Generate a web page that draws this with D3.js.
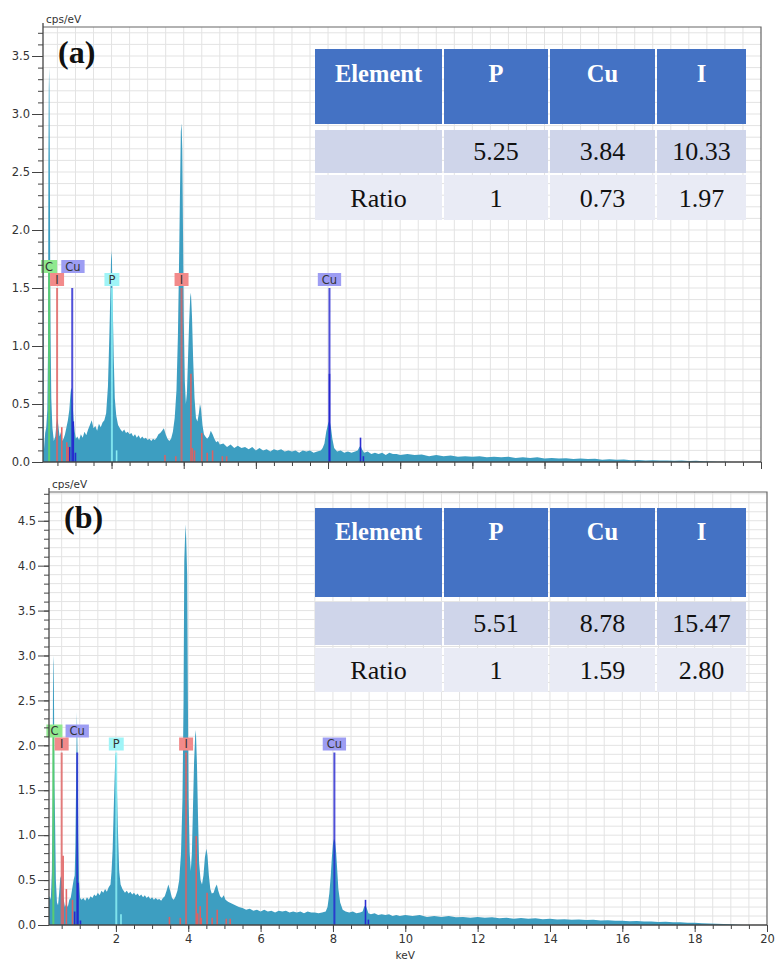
<!DOCTYPE html>
<html>
<head>
<meta charset="utf-8">
<script src="https://cdn.jsdelivr.net/npm/d3@7"></script>
<style>
  body { margin: 0; background: #fff; }
  svg { display: block; font-family: "DejaVu Sans", Verdana, sans-serif; }
</style>
</head>
<body>
<div id="chart"></div>
<script>
// EDS spectrum (a): [keV, cps/eV]
const spectrumA = [
  [0.10,2.2],[0.115,2.2],[0.125,0.1],[0.16,0.25],[0.19,0.3],[0.22,0.45],[0.24,1.0],[0.25,2.6],[0.26,3.2],[0.27,3.4],
  [0.28,3.2],[0.29,2.6],[0.30,1.6],[0.31,1.1],[0.33,0.55],[0.36,0.3],[0.40,0.18],[0.44,0.22],[0.47,0.32],[0.50,0.38],
  [0.53,0.3],[0.56,0.22],[0.60,0.26],[0.63,0.18],[0.67,0.2],[0.71,0.24],[0.75,0.3],[0.79,0.36],[0.83,0.45],[0.86,0.58],
  [0.88,0.64],[0.90,0.62],[0.92,0.5],[0.95,0.36],[0.98,0.26],[1.01,0.2],[1.05,0.22],[1.1,0.19],[1.15,0.24],[1.2,0.21],
  [1.25,0.26],[1.3,0.23],[1.35,0.28],[1.4,0.32],[1.45,0.36],[1.5,0.29],[1.55,0.31],[1.6,0.27],[1.65,0.33],[1.7,0.3],
  [1.75,0.34],[1.8,0.36],[1.85,0.42],[1.9,0.65],[1.94,1.1],[1.97,1.5],[1.99,1.82],[2.01,1.75],[2.03,1.4],[2.06,0.9],
  [2.09,0.55],[2.13,0.4],[2.18,0.32],[2.25,0.28],[2.3,0.26],[2.35,0.28],[2.4,0.25],[2.45,0.26],[2.5,0.24],[2.55,0.25],
  [2.6,0.22],[2.65,0.24],[2.7,0.21],[2.75,0.23],[2.8,0.2],[2.85,0.22],[2.9,0.2],[2.95,0.21],[3.0,0.19],[3.05,0.2],
  [3.1,0.18],[3.15,0.2],[3.2,0.19],[3.25,0.21],[3.3,0.24],[3.35,0.25],[3.4,0.27],[3.45,0.29],[3.5,0.24],[3.55,0.2],
  [3.6,0.18],[3.65,0.2],[3.7,0.26],[3.75,0.38],[3.8,0.62],[3.84,1.1],[3.87,1.7],[3.9,2.4],[3.92,2.85],[3.94,2.92],
  [3.96,2.7],[3.98,2.0],[4.0,1.25],[4.03,0.7],[4.06,0.5],[4.09,0.6],[4.12,0.9],[4.15,1.2],[4.18,1.42],[4.2,1.46],
  [4.23,1.25],[4.26,0.9],[4.3,0.55],[4.34,0.38],[4.38,0.35],[4.42,0.42],[4.45,0.5],[4.48,0.46],[4.52,0.32],[4.56,0.24],
  [4.6,0.22],[4.65,0.2],[4.7,0.22],[4.75,0.27],[4.8,0.24],[4.85,0.2],[4.9,0.17],[4.95,0.18],[5.0,0.15],[5.1,0.16],
  [5.2,0.13],[5.3,0.15],[5.4,0.12],[5.5,0.14],[5.6,0.12],[5.7,0.13],[5.8,0.11],[5.9,0.13],[6.0,0.1],[6.1,0.12],
  [6.2,0.1],[6.3,0.11],[6.4,0.09],[6.5,0.11],[6.6,0.1],[6.7,0.11],[6.8,0.09],[6.9,0.1],[7.0,0.09],[7.1,0.1],
  [7.2,0.08],[7.3,0.1],[7.4,0.09],[7.5,0.1],[7.6,0.08],[7.7,0.09],[7.8,0.1],[7.85,0.12],[7.9,0.16],[7.95,0.26],
  [8.0,0.33],[8.04,0.36],[8.08,0.3],[8.12,0.2],[8.17,0.12],[8.25,0.09],[8.35,0.1],[8.45,0.08],[8.55,0.09],[8.65,0.08],
  [8.75,0.09],[8.82,0.1],[8.87,0.13],[8.9,0.14],[8.94,0.11],[9.0,0.08],[9.1,0.09],[9.2,0.07],[9.3,0.08],[9.4,0.07],
  [9.5,0.08],[9.6,0.06],[9.7,0.08],[9.8,0.07],[9.9,0.07],[10.0,0.06],[10.2,0.07],[10.4,0.06],[10.6,0.065],[10.8,0.05],
  [11.0,0.06],[11.2,0.05],[11.4,0.055],[11.6,0.045],[11.8,0.05],[12.0,0.045],[12.2,0.05],[12.4,0.04],[12.6,0.045],[12.8,0.04],
  [13.0,0.045],[13.2,0.035],[13.4,0.04],[13.6,0.035],[13.8,0.04],[14.0,0.03],[14.2,0.035],[14.4,0.03],[14.6,0.032],[14.8,0.025],
  [15.0,0.03],[15.2,0.025],[15.4,0.027],[15.6,0.02],[15.8,0.024],[16.0,0.02],[16.2,0.022],[16.4,0.016],[16.6,0.018],[16.8,0.014],
  [17.0,0.016],[17.2,0.012],[17.4,0.013],[17.6,0.01],[17.8,0.012],[18.0,0.008],[18.2,0.01],[18.4,0.006],[18.6,0.005],[18.8,0.003],
  [19.0,0.002],[19.2,0]
];

// EDS spectrum (b): [keV, cps/eV]
const spectrumB = [
  [0.15,0.3],[0.17,0.32],[0.2,0.28],[0.23,0.6],[0.25,1.5],[0.26,2.6],[0.27,3.0],[0.28,2.9],[0.29,2.4],[0.3,1.6],
  [0.32,1.1],[0.34,0.5],[0.37,0.25],[0.4,0.22],[0.43,0.35],[0.46,0.52],[0.49,0.55],[0.52,0.42],[0.55,0.3],[0.59,0.2],
  [0.63,0.24],[0.67,0.2],[0.71,0.28],[0.75,0.3],[0.79,0.4],[0.83,0.5],[0.86,0.55],[0.88,0.9],[0.9,1.6],[0.92,2.37],
  [0.94,1.9],[0.96,1.0],[0.98,0.5],[1.01,0.3],[1.05,0.28],[1.1,0.3],[1.15,0.27],[1.2,0.31],[1.25,0.28],[1.3,0.32],
  [1.35,0.3],[1.4,0.34],[1.45,0.32],[1.5,0.36],[1.55,0.33],[1.6,0.38],[1.65,0.36],[1.7,0.4],[1.75,0.37],[1.8,0.42],
  [1.85,0.45],[1.88,0.6],[1.91,0.85],[1.94,1.3],[1.97,1.7],[1.99,1.92],[2.01,1.85],[2.03,1.5],[2.06,1.0],[2.09,0.6],
  [2.13,0.45],[2.18,0.4],[2.25,0.36],[2.3,0.38],[2.35,0.35],[2.4,0.37],[2.45,0.34],[2.5,0.36],[2.55,0.33],[2.6,0.35],
  [2.65,0.32],[2.7,0.34],[2.75,0.31],[2.8,0.33],[2.85,0.3],[2.9,0.32],[2.95,0.29],[3.0,0.31],[3.05,0.28],[3.1,0.3],
  [3.15,0.28],[3.2,0.29],[3.25,0.27],[3.3,0.3],[3.35,0.32],[3.4,0.38],[3.45,0.45],[3.5,0.38],[3.55,0.3],[3.6,0.28],
  [3.65,0.32],[3.7,0.38],[3.75,0.5],[3.8,0.8],[3.84,1.4],[3.87,2.5],[3.89,4.05],[3.91,4.3],[3.93,4.46],[3.95,4.2],
  [3.97,3.9],[3.99,2.5],[4.01,1.4],[4.04,0.8],[4.07,0.6],[4.1,0.8],[4.13,1.3],[4.16,1.8],[4.19,2.1],[4.21,2.17],
  [4.24,1.8],[4.27,1.2],[4.3,0.7],[4.34,0.5],[4.38,0.45],[4.42,0.55],[4.46,0.75],[4.5,0.85],[4.53,0.78],[4.57,0.55],
  [4.61,0.4],[4.65,0.35],[4.7,0.36],[4.75,0.42],[4.79,0.45],[4.83,0.38],[4.88,0.32],[4.93,0.3],[4.98,0.33],[5.03,0.28],
  [5.1,0.26],[5.2,0.24],[5.3,0.22],[5.4,0.2],[5.5,0.19],[5.6,0.17],[5.7,0.18],[5.8,0.16],[5.9,0.17],[6.0,0.15],
  [6.1,0.17],[6.2,0.15],[6.3,0.16],[6.4,0.14],[6.5,0.16],[6.6,0.15],[6.7,0.16],[6.8,0.14],[6.9,0.15],[7.0,0.14],
  [7.1,0.15],[7.2,0.13],[7.3,0.15],[7.4,0.14],[7.5,0.14],[7.6,0.13],[7.7,0.14],[7.8,0.15],[7.85,0.2],[7.9,0.35],
  [7.94,0.55],[7.97,0.75],[8.0,0.9],[8.03,0.96],[8.06,0.93],[8.09,0.8],[8.12,0.6],[8.15,0.4],[8.2,0.25],[8.27,0.17],
  [8.35,0.15],[8.45,0.14],[8.55,0.15],[8.65,0.13],[8.75,0.14],[8.82,0.15],[8.86,0.2],[8.9,0.22],[8.94,0.18],[8.98,0.13],
  [9.05,0.12],[9.15,0.13],[9.25,0.11],[9.35,0.12],[9.45,0.11],[9.55,0.12],[9.65,0.1],[9.75,0.11],[9.85,0.1],[10.0,0.11],
  [10.2,0.1],[10.4,0.11],[10.6,0.09],[10.8,0.1],[11.0,0.09],[11.2,0.1],[11.4,0.085],[11.6,0.09],[11.8,0.08],[12.0,0.09],
  [12.2,0.08],[12.4,0.085],[12.6,0.075],[12.8,0.08],[13.0,0.07],[13.2,0.078],[13.4,0.07],[13.6,0.075],[13.8,0.065],[14.0,0.07],
  [14.2,0.06],[14.4,0.065],[14.6,0.058],[14.8,0.06],[15.0,0.055],[15.2,0.058],[15.4,0.05],[15.6,0.052],[15.8,0.046],[16.0,0.048],
  [16.2,0.042],[16.4,0.044],[16.6,0.038],[16.8,0.04],[17.0,0.034],[17.2,0.035],[17.4,0.03],[17.6,0.03],[17.8,0.025],[18.0,0.024],
  [18.2,0.02],[18.4,0.018],[18.6,0.014],[18.8,0.012],[19.0,0.008],[19.2,0.004],[19.35,0]
];

// element marker lines: [element, keV, height]
const linesA = [
  ["C",0.27,1.64],
  ["I",0.49,1.5],["I",0.62,0.3],["I",0.76,0.17],["I",0.8,0.13],
  ["Cu",0.91,1.5],["Cu",0.94,0.35],["Cu",0.84,0.13],["Cu",1.0,0.08],
  ["P",2.01,1.5],["P",2.14,0.1],
  ["I",3.48,0.06],["I",3.78,0.05],["I",3.94,1.5],["I",4.2,0.76],["I",4.24,0.12],["I",4.3,0.1],
  ["I",4.5,0.25],["I",4.65,0.08],["I",4.8,0.1],["I",5.07,0.05],["I",5.19,0.05],
  ["Cu",8.04,1.5],["Cu",8.04,0.76],["Cu",8.9,0.21],["Cu",8.98,0.05]
];
const linesB = [
  ["C",0.27,2.12],
  ["I",0.5,1.92],["I",0.54,0.77],["I",0.63,0.4],["I",0.8,0.28],
  ["Cu",0.93,1.92],["Cu",0.95,0.47],["Cu",0.86,0.15],["Cu",1.02,0.05],
  ["P",2.01,1.92],["P",2.14,0.12],
  ["I",3.48,0.09],["I",3.78,0.08],["I",3.94,1.92],["I",4.22,0.99],["I",4.26,0.13],["I",4.33,0.21],
  ["I",4.36,0.08],["I",4.52,0.36],["I",4.66,0.08],["I",4.8,0.17],["I",5.05,0.07],["I",5.16,0.07],
  ["Cu",8.04,1.92],["Cu",8.9,0.28],["Cu",8.98,0.06]
];

// element labels: [element, keV, stack row]
const labelsA = [["C",0.27,1],["Cu",0.93,1],["I",0.49,0],["P",2.01,0],["I",3.94,0],["Cu",8.04,0]];
const labelsB = [["C",0.3,1],["Cu",0.93,1],["I",0.5,0],["P",2.01,0],["I",3.94,0],["Cu",8.04,0]];

// table contents
const tableHeader = ["Element", "P", "Cu", "I"];
const amountsA = ["", "5.25", "3.84", "10.33"];
const ratiosA = ["Ratio", "1", "0.73", "1.97"];
const amountsB = ["", "5.51", "8.78", "15.47"];
const ratiosB = ["Ratio", "1", "1.59", "2.80"];

const lineColor = { C: "#5fd75f", I: "#e06060", Cu: "#2424d0", P: "#8ef2f6" };
const boxColor = { C: "#8fe98f", I: "#f28a8a", Cu: "#9d9df3", P: "#9ff4f7" };

const svg = d3.select("#chart").append("svg")
  .attr("width", 775)
  .attr("height", 961);

svg.append("rect").attr("width", 775).attr("height", 961).attr("fill", "#fff");

function drawPanel(cfg) {
  const x = d3.scaleLinear().domain(cfg.xDomain).range([cfg.left, cfg.right]);
  const y = d3.scaleLinear().domain([0, cfg.yMax]).range([cfg.bottom, cfg.top]);
  const g = svg.append("g");

  // grid
  const xGrid = d3.range(1, 41).map(i => i * 0.5).filter(v => v > cfg.xDomain[0] && v < 20);
  const yGrid = d3.range(1, Math.floor(cfg.yMax * 10) + 1).map(i => i / 10);
  g.selectAll(".vg").data(xGrid).enter().append("line")
    .attr("x1", d => x(d)).attr("x2", d => x(d))
    .attr("y1", cfg.top).attr("y2", cfg.bottom)
    .attr("stroke", "#e3e3e3");
  g.selectAll(".hg").data(yGrid).enter().append("line")
    .attr("x1", cfg.left).attr("x2", cfg.right)
    .attr("y1", d => y(d)).attr("y2", d => y(d))
    .attr("stroke", "#e3e3e3");

  // spectrum
  const clipId = "clip-" + cfg.name;
  g.append("clipPath").attr("id", clipId).append("rect")
    .attr("x", cfg.left).attr("y", cfg.top)
    .attr("width", cfg.right - cfg.left).attr("height", cfg.bottom - cfg.top);

  g.append("path")
    .datum(cfg.spectrum)
    .attr("clip-path", `url(#${clipId})`)
    .attr("fill", "#3d9ec1")
    .attr("d", d3.area()
      .x(d => x(d[0]))
      .y0(y(0))
      .y1(d => y(d[1])));

  // element lines
  g.selectAll(".mk").data(cfg.lines).enter().append("line")
    .attr("x1", d => x(d[1])).attr("x2", d => x(d[1]))
    .attr("y1", y(0)).attr("y2", d => y(d[2]))
    .attr("stroke", d => lineColor[d[0]])
    .attr("stroke-width", d => d[2] >= cfg.labelTop ? 2 : 1.6)
    .attr("stroke-opacity", d => d[2] >= cfg.labelTop ? 0.8 : 0.95);

  // element labels
  const boxH = 13;
  cfg.labels.forEach(([el, kev, row]) => {
    const cx = x(kev);
    const yb = y(cfg.labelTop) - 2 - row * boxH;
    const lab = g.append("g");
    const t = lab.append("text")
      .attr("x", cx).attr("y", yb - 2.5)
      .attr("text-anchor", "middle")
      .attr("font-size", 11.5)
      .attr("fill", "#333")
      .text(el);
    const w = Math.max(14, t.node().getComputedTextLength() + 8);
    lab.insert("rect", "text")
      .attr("x", cx - w / 2).attr("y", yb - boxH)
      .attr("width", w).attr("height", boxH)
      .attr("fill", boxColor[el]);
  });

  // frame
  g.append("path")
    .attr("d", `M${cfg.left},${cfg.top}H${cfg.right}V${cfg.bottom}`)
    .attr("fill", "none").attr("stroke", "#666").attr("stroke-width", 1.2);

  // y axis
  const yMajor = d3.range(0, Math.floor(cfg.yMax * 2) + 1).map(i => i / 2);
  g.append("g")
    .attr("transform", `translate(${cfg.left},0)`)
    .call(d3.axisLeft(y).tickValues(yGrid).tickSize(5).tickFormat(""))
    .call(a => a.select(".domain").remove())
    .attr("color", "#444");
  g.append("g")
    .attr("transform", `translate(${cfg.left},0)`)
    .call(d3.axisLeft(y).tickValues(yMajor).tickSize(11).tickPadding(2).tickFormat(d3.format(".1f")))
    .attr("color", "#444")
    .call(a => a.select(".domain").attr("d", `M0,${cfg.top - 4}V${cfg.bottom}`).attr("stroke-width", 1.3))
    .selectAll("text")
    .attr("font-family", "DejaVu Sans, Verdana, sans-serif")
    .attr("font-size", 11.5)
    .attr("fill", "#333");

  // x axis
  const xMinor = d3.range(1, 41).map(i => i * 0.5).filter(v => v > cfg.xDomain[0]);
  const xMajor = d3.range(1, 11).map(i => i * 2);
  g.append("g")
    .attr("transform", `translate(0,${cfg.bottom})`)
    .call(d3.axisBottom(x).tickValues(xMinor).tickSize(4).tickFormat(""))
    .call(a => a.select(".domain").remove())
    .attr("color", "#444");
  const xa = g.append("g")
    .attr("transform", `translate(0,${cfg.bottom})`)
    .call(d3.axisBottom(x).tickValues(xMajor).tickSize(7).tickPadding(3)
      .tickFormat(cfg.xLabels ? d3.format("d") : ""))
    .attr("color", "#444");
  xa.select(".domain").attr("d", `M${cfg.left},0H${cfg.right}`).attr("stroke-width", 1.3);
  xa.selectAll("text")
    .attr("font-family", "DejaVu Sans, Verdana, sans-serif")
    .attr("font-size", 11.5)
    .attr("fill", "#333");

  if (cfg.xLabels) {
    g.append("text")
      .attr("x", x(10)).attr("y", cfg.bottom + 34)
      .attr("text-anchor", "middle")
      .attr("font-size", 10.5).attr("fill", "#333")
      .text("keV");
  }

  g.append("text")
    .attr("x", cfg.left + 3).attr("y", cfg.top - 4)
    .attr("font-size", 10.5).attr("fill", "#333")
    .text("cps/eV");

  g.append("text")
    .attr("x", cfg.left + 15).attr("y", cfg.top + 36)
    .attr("font-family", "Liberation Serif, Times New Roman, serif")
    .attr("font-weight", "bold")
    .attr("font-size", 32)
    .attr("fill", "#111")
    .text(cfg.tag);

  drawTable(cfg.table, cfg.amounts, cfg.ratios);
}

function drawTable(t, amounts, ratios) {
  const edges = [314, 443, 549, 656, 747];
  const tg = svg.append("g").attr("font-family", "Liberation Serif, Times New Roman, serif");
  const rows = [
    { cells: tableHeader, y0: t.rows[0][0], y1: t.rows[0][1], fill: "#4472c4", color: "#fff", bold: true, base: t.bases[0] },
    { cells: amounts, y0: t.rows[1][0], y1: t.rows[1][1], fill: "#cfd5ea", color: "#111", bold: false, base: t.bases[1] },
    { cells: ratios, y0: t.rows[2][0], y1: t.rows[2][1], fill: "#e9ebf5", color: "#111", bold: false, base: t.bases[2] }
  ];
  rows.forEach(r => {
    r.cells.forEach((c, i) => {
      tg.append("rect")
        .attr("x", edges[i] + 1).attr("y", r.y0)
        .attr("width", edges[i + 1] - edges[i] - 2).attr("height", r.y1 - r.y0)
        .attr("fill", r.fill);
      tg.append("text")
        .attr("x", (edges[i] + edges[i + 1]) / 2).attr("y", r.base)
        .attr("text-anchor", "middle")
        .attr("font-size", r.bold ? 24.5 : 26)
        .attr("font-weight", r.bold ? "bold" : "normal")
        .attr("fill", r.color)
        .text(c);
    });
  });
}

drawPanel({
  name: "a", tag: "(a)", spectrum: spectrumA, lines: linesA, labels: labelsA, labelTop: 1.5,
  xDomain: [0.1, 20], yMax: 3.75, left: 43, right: 761, top: 27, bottom: 462, xLabels: false,
  amounts: amountsA, ratios: ratiosA,
  table: { rows: [[49, 124], [130, 173], [175, 220]], bases: [82, 160, 207] }
});

drawPanel({
  name: "b", tag: "(b)", spectrum: spectrumB, lines: linesB, labels: labelsB, labelTop: 1.92,
  xDomain: [0.15, 20], yMax: 4.82, left: 49, right: 767, top: 492, bottom: 925, xLabels: true,
  amounts: amountsB, ratios: ratiosB,
  table: { rows: [[508, 597], [602, 645], [648, 692]], bases: [540, 632, 679] }
});
</script>
</body>
</html>
